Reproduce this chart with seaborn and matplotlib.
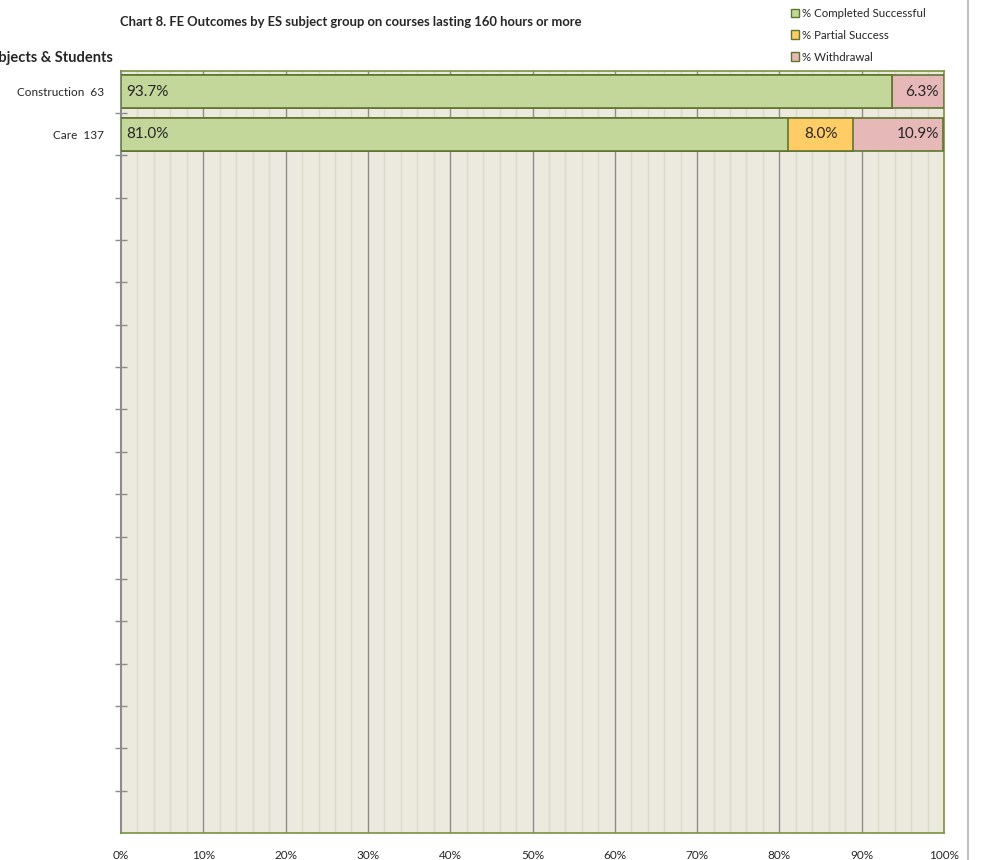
import numpy as np
import pandas as pd
import matplotlib
matplotlib.use('Agg')
import matplotlib.pyplot as plt
import matplotlib.ticker as mtick
from matplotlib.lines import Line2D
from matplotlib.patches import Patch
import seaborn as sns

# ── Data ──────────────────────────────────────────────────────
subjects = ["Construction  63", "Care  137"]
n_slots = 18  # chart has room for 18 subject rows, only 2 used
completed = [93.7, 81.0]
partial = [0.0, 8.0]
withdrawal = [6.3, 10.9]
series_names = ["% Completed Successful", "% Partial Success", "% Withdrawal"]

# ── Style ─────────────────────────────────────────────────────
sns.set_theme(style="white")
plt.rcParams['font.family'] = ['Lato', 'DejaVu Sans']
COLORS = ["#C4D79B", "#FFCC66", "#E6B9B8"]
EDGE = "#5F7530"

labels = subjects + [" " * (i + 1) for i in range(n_slots - len(subjects))]
df = pd.DataFrame({
    "Subject": labels,
    "Completed": completed + [0] * (n_slots - len(subjects)),
    "Partial": partial + [0] * (n_slots - len(subjects)),
    "Withdrawal": withdrawal + [0] * (n_slots - len(subjects)),
})

fig = plt.figure(figsize=(9.82, 8.6), dpi=100)
ax = fig.add_axes([121 / 982, 1 - 833 / 860, (944 - 121) / 982, (833 - 70.7) / 860])
ax.set_facecolor("#ECEADF")

# grid
for v in np.arange(2, 100, 2):
    if v % 10 == 0:
        ax.axvline(v, color="#8C8C8C", lw=1.0, zorder=0)
    else:
        ax.axvline(v, color="#DCDAC6", lw=1.0, zorder=0)

# stacked bars through seaborn (cumulative ends, drawn back to front)
d = df.iloc[:len(subjects)].copy()
left = np.zeros(len(d))
cols = ["Completed", "Partial", "Withdrawal"]
for col, color in zip(cols, COLORS):
    d["_end"] = left + d[col]
    sns.barplot(data=d, x="_end", y="Subject", order=labels, color=color, saturation=1,
                width=0.78, edgecolor=EDGE, linewidth=1.2, ax=ax, orient="h")
    left = left + d[col].values

for i, cont in enumerate(ax.containers):
    for p in cont.patches:
        p.set_zorder(5 - i)

# value labels
for i in range(len(subjects)):
    c, pa, w = completed[i], partial[i], withdrawal[i]
    ax.text(0.6, i, f"{c:.1f}%", va="center", ha="left", fontsize=11, zorder=10)
    if pa > 0:
        ax.text(c + pa / 2, i, f"{pa:.1f}%", va="center", ha="center", fontsize=11, zorder=10)
    ax.text(99.4, i, f"{w:.1f}%", va="center", ha="right", fontsize=11, zorder=10)

ax.set_xlim(0, 100)
ax.set_ylim(n_slots - 0.5, -0.5)
ax.xaxis.set_major_locator(mtick.MultipleLocator(10))
ax.xaxis.set_major_formatter(mtick.PercentFormatter(decimals=0))
ax.tick_params(axis="x", length=0, labelsize=8.5, pad=12)
ax.tick_params(axis="y", which="major", left=True, length=0, labelsize=8.5, pad=12)
ax.set_yticks(np.arange(0.5, n_slots - 0.5, 1), minor=True)
ax.tick_params(axis="y", which="minor", left=True, direction="inout", length=8,
               color="#8C8C8C", width=1)
ax.set_xlabel("")
ax.set_ylabel("")

for side in ["top", "right", "bottom"]:
    ax.spines[side].set_color("#77933C")
    ax.spines[side].set_linewidth(1.2)
ax.spines["left"].set_color("#8C8C8C")
ax.spines["left"].set_linewidth(1.5)

# title and axis heading
fig.text(120 / 982, 1 - 22 / 860, "Chart 8. FE Outcomes by ES subject group on courses lasting 160 hours or more",
         fontsize=9.4, fontweight="bold", ha="left", va="center")
fig.text(113 / 982, 1 - 58 / 860, "Subjects & Students", fontsize=10.5, fontweight="bold",
         ha="right", va="center")

# legend
handles = [Patch(facecolor=c, edgecolor=EDGE, label=n) for c, n in zip(COLORS, series_names)]
fig.legend(handles=handles, loc="upper left", bbox_to_anchor=(786 / 982, 1 - 3 / 860),
           frameon=False, fontsize=8.3, handlelength=0.7, handleheight=0.7,
           handletextpad=0.3, labelspacing=0.95, borderaxespad=0)

# page border line on the right
fig.add_artist(Line2D([968 / 982, 968 / 982], [0, 1], color="#BFBFBF", lw=1.5))

plt.savefig("out.png", dpi=100)
plt.close()
